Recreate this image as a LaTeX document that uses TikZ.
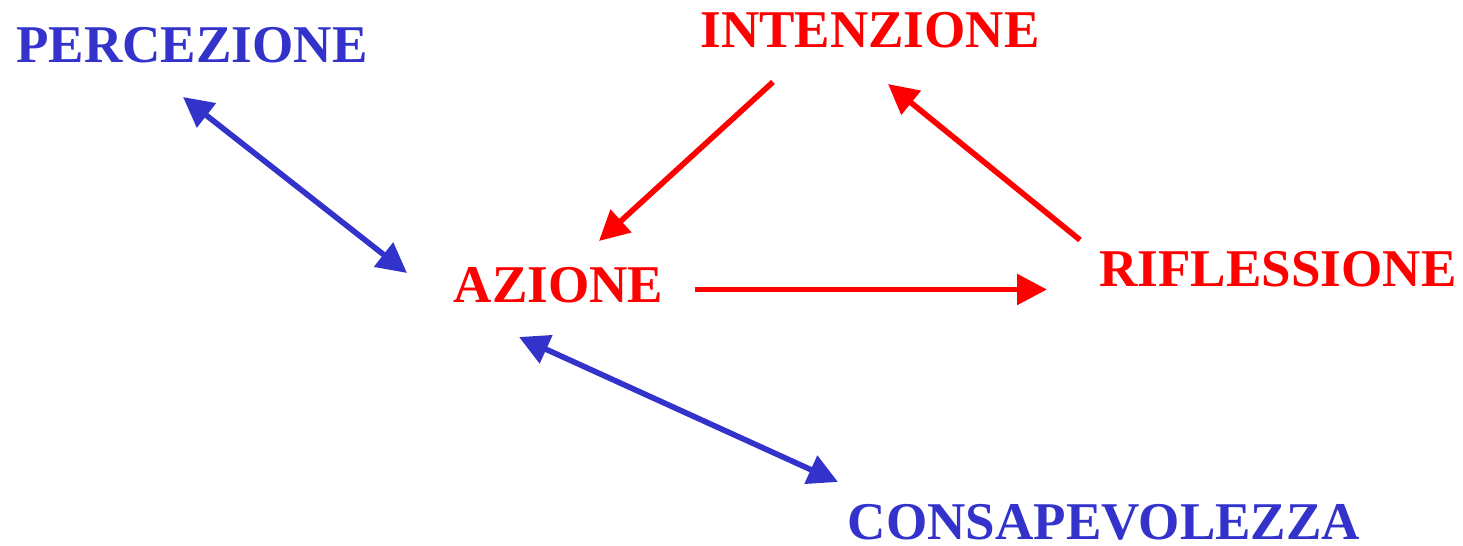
\documentclass[tikz,border=0pt]{standalone}
\usepackage{fontspec}
\setmainfont{Liberation Serif}
\usetikzlibrary{arrows.meta}

\definecolor{bluastro}{RGB}{51,51,204}
\definecolor{rosso}{RGB}{255,0,0}

\tikzset{
	parola/.style={inner sep=0pt, anchor=base, font=\fontsize{15.1}{18}\selectfont\bfseries},
	freccia/.style={line width=1.6pt, -{Triangle[length=8.5pt,width=8.5pt]}},
	doppia/.style={line width=1.6pt, {Triangle[length=8.5pt,width=8.5pt]}-{Triangle[length=8.5pt,width=8.5pt]}}
}

\begin{document}
\begin{tikzpicture}
		\useasboundingbox (0,0) rectangle (14.63,-5.46);
		% parole
		\node[parola, text=bluastro] (perc) at (1.92,-0.63) {PERCEZIONE};
		\node[parola, text=rosso] (inte) at (8.70,-0.48) {INTENZIONE};
		\node[parola, text=rosso] (azio) at (5.585,-3.03) {AZIONE};
		\node[parola, text=rosso] (rifl) at (12.78,-2.87) {RIFLESSIONE};
		\node[parola, text=bluastro] (cons) at (11.04,-5.40) {CONSAPEVOLEZZA};
		% estremi delle frecce
		\coordinate (pa) at (1.83,-0.97);
		\coordinate (ap) at (4.07,-2.73);
		\coordinate (ia) at (7.73,-0.82);
		\coordinate (ai) at (5.99,-2.41);
		\coordinate (ar) at (6.95,-2.895);
		\coordinate (ra) at (10.47,-2.895);
		\coordinate (ri) at (10.80,-2.40);
		\coordinate (ir) at (8.88,-0.84);
		\coordinate (ac) at (5.19,-3.37);
		\coordinate (ca) at (8.38,-4.82);
		% frecce
		\draw[doppia, bluastro] (pa) -- (ap);
		\draw[freccia, rosso] (ia) -- (ai);
		\draw[freccia, rosso] (ar) -- (ra);
		\draw[freccia, rosso] (ri) -- (ir);
		\draw[doppia, bluastro] (ac) -- (ca);
\end{tikzpicture}
\end{document}
